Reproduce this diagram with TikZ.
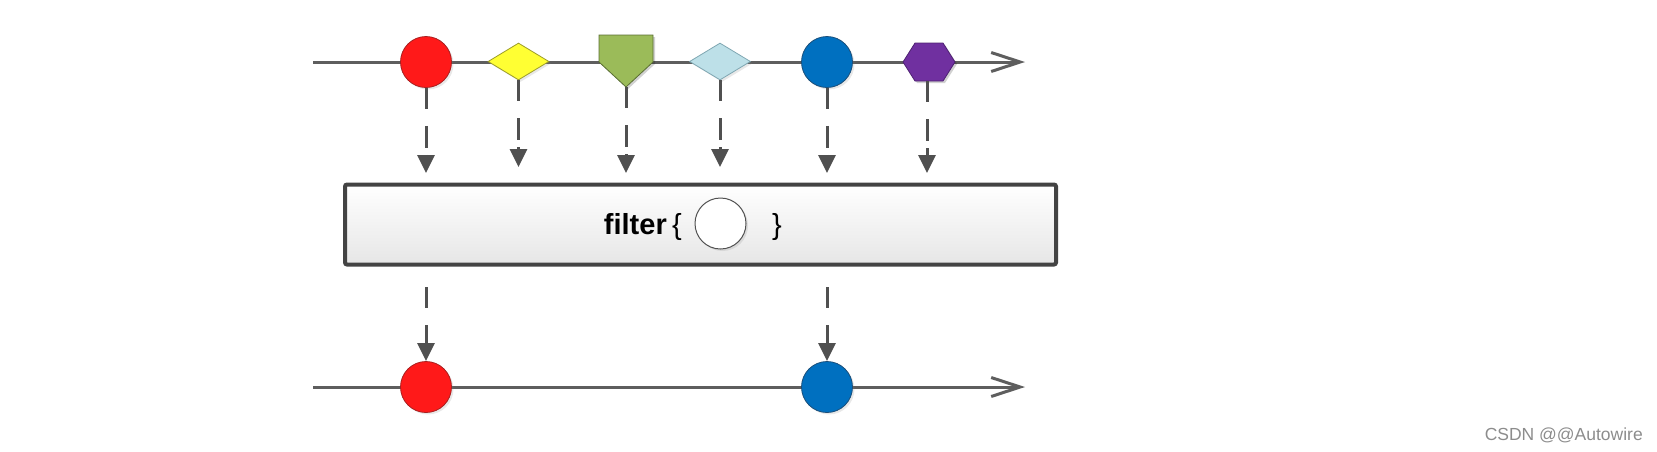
\documentclass[tikz,border=0pt]{standalone}
\usepackage{fontspec}
\setmainfont{Liberation Sans}
\usetikzlibrary{arrows.meta,shapes.geometric,shadows}
\definecolor{linegray}{HTML}{5E5E5E}
\definecolor{arrowgray}{HTML}{505050}
\definecolor{boxd}{HTML}{434343}
\definecolor{boxbot}{HTML}{E6E6E6}
\definecolor{redf}{HTML}{FF1919}
\definecolor{redd}{HTML}{A82020}
\definecolor{yelf}{HTML}{FFFF33}
\definecolor{yeld}{HTML}{9C9C2A}
\definecolor{greenf}{HTML}{9BBB59}
\definecolor{greend}{HTML}{5A6E33}
\definecolor{ltbf}{HTML}{BDE0E8}
\definecolor{ltbd}{HTML}{7FA7B2}
\definecolor{bluef}{HTML}{0070C0}
\definecolor{blued}{HTML}{1B4F7A}
\definecolor{purpf}{HTML}{7030A0}
\definecolor{purpd}{HTML}{4E2272}
\definecolor{wmgray}{HTML}{8C8C8C}
\newcommand{\ftxt}{\fontsize{29}{32}\selectfont}
\begin{document}
\begin{tikzpicture}[x=1pt,y=-1pt,
  tl/.style={line width=3pt, draw=linegray, -{Straight Barb[length=29pt,width=19pt]}},
  drop/.style={line width=3pt, draw=arrowgray, dash pattern=on 21pt off 17pt on 22pt off 7pt, -{Triangle[length=18pt,width=17pt]}},
  soft/.style={drop shadow={opacity=0.18, shadow xshift=2pt, shadow yshift=-2pt}},
  ball/.style={circle, minimum size=51pt, inner sep=0pt, line width=0.8pt, soft},
  dia/.style={diamond, minimum width=61pt, minimum height=37pt, inner sep=0pt, line width=0.8pt, soft},
]
\useasboundingbox (0,0) rectangle (1657,451);

% top timeline
\coordinate (ts) at (313,62);
\coordinate (te) at (1025,62);
\draw[tl] (ts) -- (te);

\node[ball, fill=redf, draw=redd] (r1) at (426,62) {};
\node[dia, fill=yelf, draw=yeld] (y1) at (518.5,61.5) {};
\fill[black, opacity=0.18] (601,37) -- (655,37) -- (655,64) -- (628,89) -- (601,64) -- cycle;
\filldraw[fill=greenf, draw=greend, line width=0.8pt] (599,35) -- (653,35) -- (653,62) -- (626,87) -- (599,62) -- cycle;
\coordinate (g1) at (626,87);
\node[dia, fill=ltbf, draw=ltbd] (b1) at (720,61.5) {};
\node[ball, fill=bluef, draw=blued] (c1) at (827,62) {};
\fill[black, opacity=0.18] (905,64) -- (917,45) -- (945,45) -- (957,64) -- (945,83) -- (917,83) -- cycle;
\filldraw[fill=purpf, draw=purpd, line width=0.8pt] (903,62) -- (915,43) -- (943,43) -- (955,62) -- (943,81) -- (915,81) -- cycle;
\coordinate (h1) at (927,81);

% tips of drops
\coordinate (r1t) at (426,173);
\coordinate (y1t) at (518.5,167);
\coordinate (g1t) at (626,173);
\coordinate (b1t) at (720,167);
\coordinate (c1t) at (827,173);
\coordinate (h1t) at (927,173);

\draw[drop] (r1.south) -- (r1t);
\draw[drop] (y1.south) -- (y1t);
\draw[drop] (g1) -- (g1t);
\draw[drop] (b1.south) -- (b1t);
\draw[drop] (c1.south) -- (c1t);
\draw[drop] (h1) -- (h1t);

% operator box
\node[draw=boxd, line width=4pt, rounded corners=2pt, top color=white, bottom color=boxbot,
      minimum width=711pt, minimum height=80pt, inner sep=0pt] (op) at (700.5,224.5) {};
\node[anchor=base east, font=\ftxt\bfseries, inner sep=0pt] (ftx) at (667,234) {filter};
\node[anchor=base, font=\ftxt, inner sep=0pt] (lb) at (677,234) {\{};
\node[circle, draw=arrowgray, fill=white, minimum size=51pt, inner sep=0pt, line width=1pt, soft] (pred) at (720.5,223.5) {};
\node[anchor=base, font=\ftxt, inner sep=0pt] (rb) at (777,234) {\}};

% bottom timeline
\coordinate (bs) at (313,387);
\coordinate (be) at (1025,387);
\draw[tl] (bs) -- (be);
\node[ball, fill=redf, draw=redd] (r2) at (426,387) {};
\node[ball, fill=bluef, draw=blued] (c2) at (827,387) {};
\coordinate (r2s) at (426,287);
\coordinate (c2s) at (827,287);
\draw[drop] (r2s) -- (r2.north);
\draw[drop] (c2s) -- (c2.north);

% watermark
\node[anchor=base east, font=\fontsize{17.5}{20}\selectfont, text=wmgray, inner sep=0pt] (wm) at (1643,440) {CSDN @@Autowire};
\end{tikzpicture}
\end{document}
